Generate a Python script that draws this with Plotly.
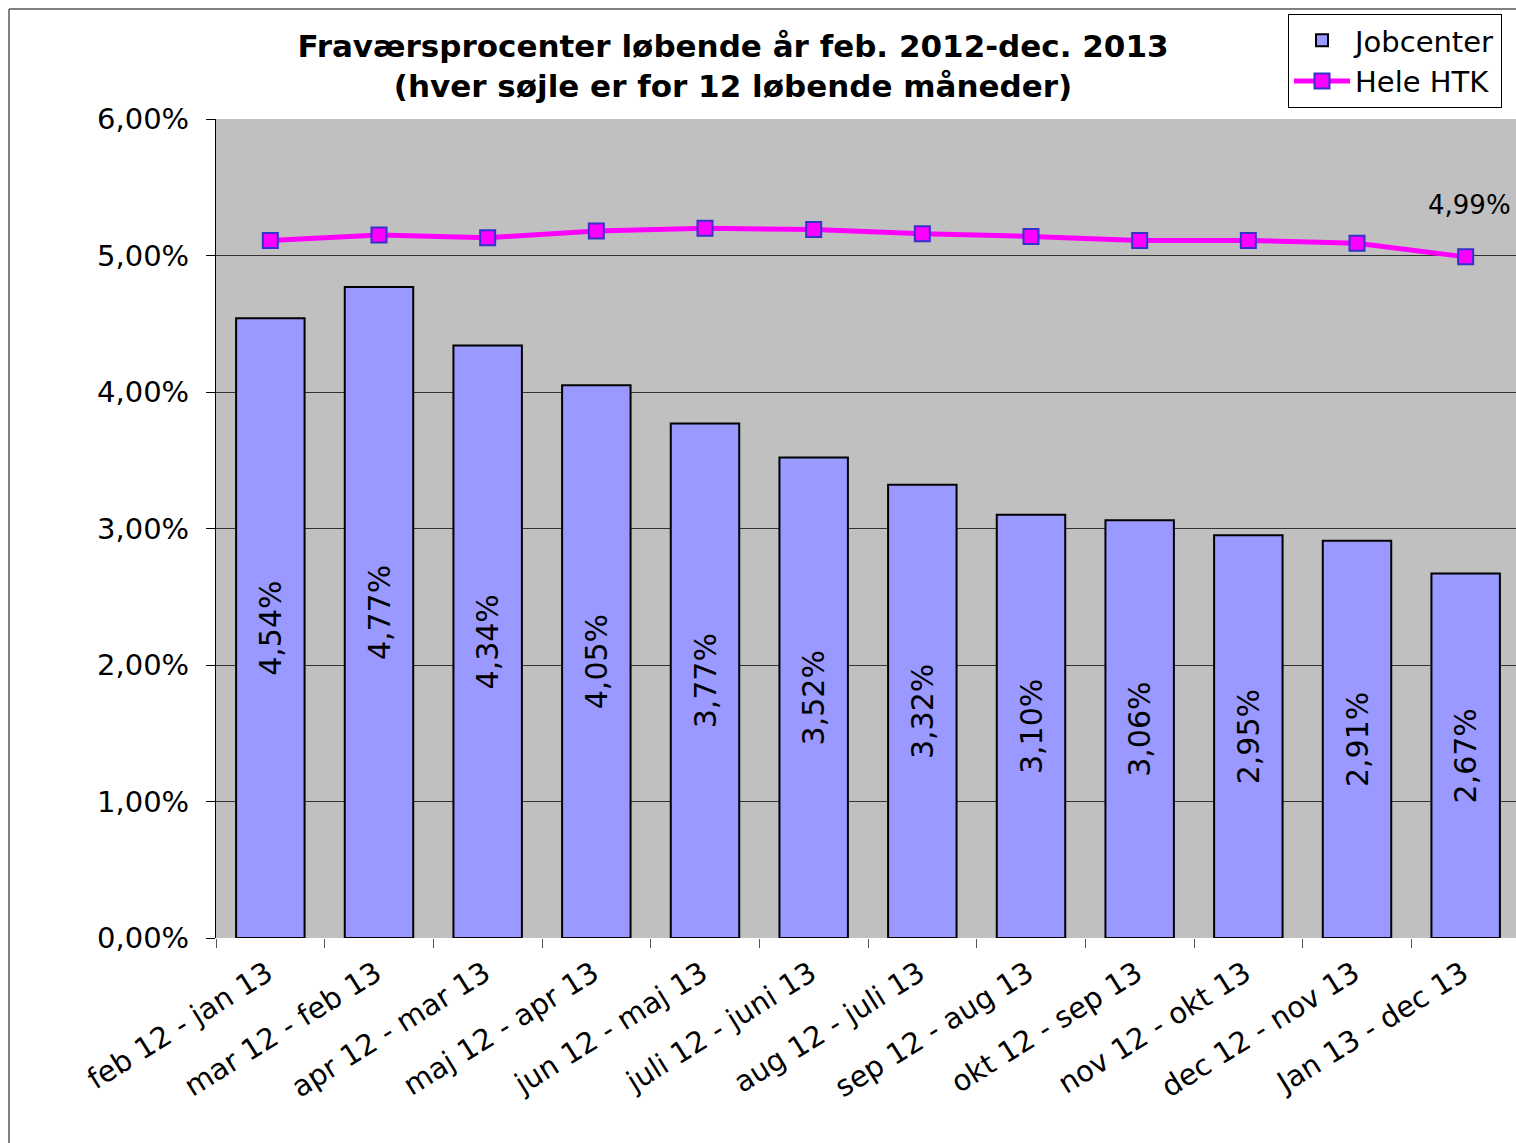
import plotly.graph_objects as go

categories = ["feb 12 - jan 13", "mar 12 - feb 13", "apr 12 - mar 13", "maj 12 - apr 13",
              "jun 12 - maj 13", "juli 12 - juni 13", "aug 12 - juli 13", "sep 12 - aug 13",
              "okt 12 - sep 13", "nov 12 - okt 13", "dec 12 - nov 13", "Jan 13 - dec 13"]
jobcenter = [0.0454, 0.0477, 0.0434, 0.0405, 0.0377, 0.0352, 0.0332, 0.0310,
             0.0306, 0.0295, 0.0291, 0.0267]
hele_htk = [0.0511, 0.0515, 0.0513, 0.0518, 0.0520, 0.0519, 0.0516, 0.0514,
            0.0511, 0.0511, 0.0509, 0.0499]

FONT = "DejaVu Sans"
W, H = 1520, 1143
L, T, B = 216, 119, 205
PW, PH = W - L, H - T - B


def px_x(x):
    return (x - L) / PW


def px_y(y):
    return (H - B - y) / PH


fig = go.Figure()
fig.add_trace(go.Bar(
    x=categories, y=jobcenter, name="Jobcenter",
    marker=dict(color="#9999FF", line=dict(color="black", width=2)),
    texttemplate="%{y:.2%}", textposition="inside", textangle=-90,
    insidetextanchor="middle", textfont=dict(family=FONT, size=30, color="black"),
))
fig.add_trace(go.Scatter(
    x=categories, y=hele_htk, name="Hele HTK", mode="lines+markers",
    line=dict(color="#FF00FF", width=5),
    marker=dict(symbol="square", size=15, color="#FF00FF", line=dict(color="#3333CC", width=2)),
))
fig.add_annotation(x=categories[-1], y=hele_htk[-1], text="4,99%", showarrow=False,
                   yshift=52, xshift=4, font=dict(family=FONT, size=26, color="black"))

fig.update_layout(
    width=W, height=H,
    margin=dict(l=L, r=0, t=T, b=B),
    paper_bgcolor="white", plot_bgcolor="#C0C0C0",
    separators=",.",
    font=dict(family=FONT, size=29, color="black"),
    bargap=0.37,
    showlegend=True,
    title=dict(text="<b>Fraværsprocenter løbende år feb. 2012-dec. 2013<br>(hver søjle er for 12 løbende måneder)</b>",
               x=733 / W, xanchor="center", y=1 - 57 / H, yanchor="middle",
               font=dict(family=FONT, size=31, color="black")),
    legend=dict(x=px_x(1288), y=px_y(14), xanchor="left", yanchor="top",
                bgcolor="white", bordercolor="black", borderwidth=1, itemwidth=56,
                font=dict(family=FONT, size=29), traceorder="normal", tracegroupgap=0),
    xaxis=dict(range=[-0.5, len(categories) - 0.5], tickangle=-32, tickson="boundaries",
               ticks="outside", ticklen=9,
               tickcolor="#555", showline=False, showgrid=False,
               ticklabelshift=-3, ticklabelstandoff=12,
               tickfont=dict(family=FONT, size=29)),
    yaxis=dict(range=[0, 0.06], dtick=0.01, tickformat=".2%", ticks="outside", ticklen=9,
               tickcolor="black", showline=True, linecolor="black", linewidth=1,
               showgrid=True, gridcolor="#333", gridwidth=1, zeroline=False,
               ticklabelstandoff=11,
               tickfont=dict(family=FONT, size=29)),
    shapes=[dict(type="line", xref="paper", yref="paper",
                 x0=px_x(9), x1=px_x(9), y0=px_y(9), y1=px_y(1200),
                 line=dict(color="#808080", width=2)),
            dict(type="line", xref="paper", yref="paper",
                 x0=px_x(9), x1=px_x(1600), y0=px_y(9), y1=px_y(9),
                 line=dict(color="#808080", width=2))],
)
fig.write_html("out.html", config={"displayModeBar": False},
               post_script="document.body.style.margin='0';document.body.style.overflow='hidden';")
